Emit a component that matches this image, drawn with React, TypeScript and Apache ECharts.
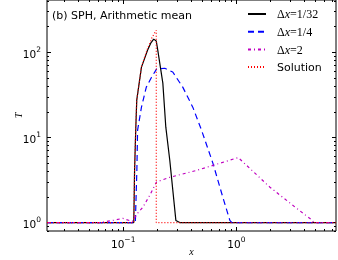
import React, { useEffect, useRef } from 'react';
import * as echarts from 'echarts';

// axis limits (data units)
const xLimits = [0.0212, 7.6];
const yLimits = [0.796, 412];
const majorXTicks = [0.1, 1];
const majorYTicks = [1, 10, 100];
const minorMultipliers = [2, 3, 4, 5, 6, 7, 8, 9];
const decades = [0.01, 0.1, 1, 10, 100];

const legendLabels = ['Δx=1/32', 'Δx=1/4', 'Δx=2', 'Solution'];

// Δx = 1/32
const dx32X = [0.0212, 0.124, 0.126, 0.129, 0.1317, 0.145, 0.164, 0.175, 0.186, 0.196, 0.202, 0.224, 0.238, 0.258, 0.292, 0.316, 7.6];
const dx32Y = [1, 1, 4.1, 12.2, 27.4, 67, 106, 128, 143, 136, 106, 43.5, 13.2, 5.4, 1.06, 1.0, 1.0];
// Δx = 1/4
const dx4X = [0.0212, 0.128, 0.132, 0.134, 0.145, 0.160, 0.178, 0.197, 0.233, 0.274, 0.336, 0.412, 0.492, 0.620, 0.760, 0.876, 0.912, 7.6];
const dx4Y = [1, 1, 4.1, 12.2, 22.7, 39, 51, 63.6, 65, 58.7, 39, 22.7, 12.2, 5.0, 1.98, 1.06, 1, 1];
// Δx = 2
const dx2X = [0.0212, 0.062, 0.081, 0.099, 0.12, 0.135, 0.149, 0.172, 0.197, 0.258, 0.445, 1.04, 1.97, 3.41, 4.62, 4.85, 7.6];
const dx2Y = [1, 1, 1.06, 1.12, 1.03, 1.3, 1.51, 2.1, 3.0, 3.4, 4.1, 5.8, 2.62, 1.47, 1.08, 1.0, 1.0];
// Solution
const solX = [0.0212, 0.124, 0.126, 0.129, 0.1317, 0.145, 0.164, 0.18, 0.196, 0.196, 7.6];
const solY = [1, 1, 4.1, 12.2, 27.4, 68, 110, 150, 182, 1, 1];

const lg = (v: number) => Math.log10(v);
const pairs = (xs: number[], ys: number[]) => xs.map((x, i) => [lg(x), lg(ys[i])]);

const minorTicks = (lo: number, hi: number) => {
  const out: number[] = [];
  decades.forEach((d) => minorMultipliers.forEach((m) => {
    const e = lg(d * m);
    if (e > lg(lo) && e < lg(hi)) out.push(e);
  }));
  return out;
};

const supLabel = (v: number) => {
  const e = Math.round(v);
  return `{b|10}{s|${e < 0 ? '−' + -e : e}}`;
};

export default function App() {
  const ref = useRef<HTMLDivElement>(null);
  useEffect(() => {
    if (!ref.current) return;
    const chart = echarts.init(ref.current, undefined, { renderer: 'svg' });
    const xMin = lg(xLimits[0]), xMax = lg(xLimits[1]);
    const yMin = lg(yLimits[0]), yMax = lg(yLimits[1]);
    const tickStyle = { lineStyle: { color: '#000', width: 1 } };
    const rich = {
      b: { fontSize: 10.5, fontFamily: 'DejaVu Sans', color: '#000', lineHeight: 14, verticalAlign: 'bottom' },
      s: { fontSize: 7.5, fontFamily: 'DejaVu Sans', color: '#000', verticalAlign: 'top', lineHeight: 8 },
    };
    const mkX = (pos: string, major: boolean, label: boolean) => ({
      type: 'value', position: pos, min: xMin, max: xMax,
      axisLine: { show: false, onZero: false }, splitLine: { show: false },
      axisTick: { show: true, inside: true, length: major ? 4 : 2, customValues: major ? majorXTicks.map(lg) : minorTicks(xLimits[0], xLimits[1]), ...tickStyle },
      axisLabel: label ? { show: true, customValues: majorXTicks.map(lg), formatter: supLabel, rich, margin: 4 } : { show: false },
      ...(label ? { name: 'x', nameLocation: 'middle', nameGap: 15, nameMoveOverlap: false, nameTextStyle: { fontFamily: 'Liberation Serif', fontStyle: 'italic', fontSize: 10, color: '#000' } } : {}),
    });
    const mkY = (pos: string, major: boolean, label: boolean) => ({
      type: 'value', position: pos, min: yMin, max: yMax,
      axisLine: { show: false, onZero: false }, splitLine: { show: false },
      axisTick: { show: true, inside: true, length: major ? 4 : 2, customValues: major ? majorYTicks.map(lg) : minorTicks(yLimits[0], yLimits[1]), ...tickStyle },
      axisLabel: label ? { show: true, customValues: majorYTicks.map(lg), formatter: supLabel, rich, margin: 6 } : { show: false },
      ...(label ? { name: 'T', nameLocation: 'middle', nameGap: 24, nameMoveOverlap: false, nameRotate: 90, nameTextStyle: { fontFamily: 'Liberation Serif', fontStyle: 'italic', fontSize: 10, color: '#000' } } : {}),
    });
    const base = { type: 'line', symbol: 'none', xAxisIndex: 0, yAxisIndex: 0 };
    chart.setOption({
      animation: false,
      title: {
        text: '(b) SPH, Arithmetic mean', left: 52, top: 9.5, padding: 0,
        textStyle: { fontFamily: 'DejaVu Sans', fontSize: 11, fontWeight: 'normal', color: '#000' },
      },
      grid: { left: 47, right: 2, top: 0, bottom: 29, show: true, borderColor: '#000', borderWidth: 1, backgroundColor: 'transparent', outerBoundsMode: 'none', containLabel: false },
      legend: {
        orient: 'vertical', left: 247, top: 8, itemWidth: 18, itemHeight: 14, itemGap: 5.8, padding: 0,
        data: legendLabels,
        itemStyle: { opacity: 0 },
        formatter: (name: string) => name === 'Solution' ? `{s|Solution}` : `{m|Δ}{i|x}{m|${name.slice(2)}}`,
        textStyle: {
          rich: {
            m: { fontFamily: 'Liberation Serif', fontSize: 12, color: '#000', lineHeight: 14 },
            i: { fontFamily: 'Liberation Serif', fontStyle: 'italic', fontSize: 12, color: '#000', lineHeight: 14 },
            s: { fontFamily: 'DejaVu Sans', fontSize: 11, color: '#000', lineHeight: 14 },
          },
          padding: [0, 0, 0, 6],
        },
      },
      xAxis: [mkX('bottom', true, true), mkX('bottom', false, false), mkX('top', true, false), mkX('top', false, false)],
      yAxis: [mkY('left', true, true), mkY('left', false, false), mkY('right', true, false), mkY('right', false, false)],
      series: [
        { ...base, name: legendLabels[0], data: pairs(dx32X, dx32Y), lineStyle: { color: '#000000', width: 1.2, type: 'solid' }, itemStyle: { color: '#000000' } },
        { ...base, name: legendLabels[1], data: pairs(dx4X, dx4Y), lineStyle: { color: '#0000ff', width: 1.2, type: [6, 4] }, itemStyle: { color: '#0000ff' } },
        { ...base, name: legendLabels[2], data: pairs(dx2X, dx2Y), lineStyle: { color: '#bf00bf', width: 1.2, type: [3, 3, 1, 3] }, itemStyle: { color: '#bf00bf' } },
        { ...base, name: legendLabels[3], data: pairs(solX, solY), lineStyle: { color: '#ff0000', width: 1.2, type: [1, 2] }, itemStyle: { color: '#ff0000' } },
      ],
    });
    return () => chart.dispose();
  }, []);
  return <div ref={ref} style={{ position: 'fixed', left: 0, top: 0, width: 338, height: 260 }} />;
}
